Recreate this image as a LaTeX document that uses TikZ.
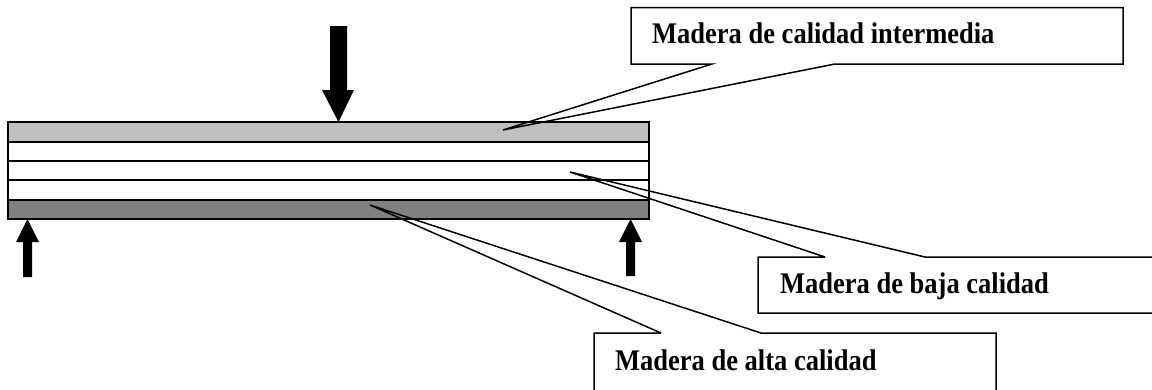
\documentclass[tikz,border=0pt]{standalone}
\usepackage{fontspec}
\setmainfont{Liberation Serif}
\newcommand{\tallbold}[1]{\scalebox{1}[1.13]{\bfseries\fontsize{26.5}{30}\selectfont #1}}
\begin{document}
\begin{tikzpicture}[x=1pt,y=-1pt,
  beamline/.style={draw=black,line width=2pt},
  callout/.style={draw=black,line width=1.5pt,line join=miter},
  forcearrow/.style={fill=black,draw=none},
  lbl/.style={anchor=base west,inner sep=0pt}]
\useasboundingbox (0,0) rectangle (1152,389);
% beam layers
\definecolor{lightwood}{HTML}{C0C0C0}
\definecolor{darkwood}{HTML}{808080}
\fill[lightwood] (8,122) rectangle (649,141.5);
\fill[white] (8,141.5) rectangle (649,199.5);
\fill[darkwood] (8,199.5) rectangle (649,219);
\draw[beamline] (8,122) rectangle (649,219);
\draw[beamline] (8,141.5) -- (649,141.5);
\draw[beamline] (8,161) -- (649,161);
\draw[beamline] (8,180.3) -- (649,180.3);
\draw[beamline] (8,199.5) -- (649,199.5);
% load arrow (down)
\fill[forcearrow] (330,26) -- (347,26) -- (347,90) -- (354,90) -- (338.5,122) -- (322,90) -- (330,90) -- cycle;
% support arrows (up)
\fill[forcearrow] (23,277) -- (32,277) -- (32,242) -- (39,242) -- (27.5,219) -- (16,242) -- (23,242) -- cycle;
\fill[forcearrow] (626,276) -- (635,276) -- (635,242) -- (642,242) -- (630.5,219) -- (619,242) -- (626,242) -- cycle;
% callouts
\draw[callout] (712,64) -- (631,64) -- (631,7.5) -- (1123,7.5) -- (1123,64) -- (835,64) -- (503,130) -- cycle;
\draw[callout] (825,257) -- (570,172) -- (925,257) -- (1160,257) (1160,313) -- (758,313) -- (758,257) -- (825,257);
\draw[callout] (661,333) -- (370,205) -- (761,333) -- (996,333) -- (996,400) (594,400) -- (594,333) -- (661,333);
% labels
\node[lbl] (interm) at (652,43) {\tallbold{Madera de calidad intermedia}};
\node[lbl] (baja) at (780,293) {\tallbold{Madera de baja calidad}};
\node[lbl] (alta) at (615,370) {\tallbold{Madera de alta calidad}};
\end{tikzpicture}
\end{document}
